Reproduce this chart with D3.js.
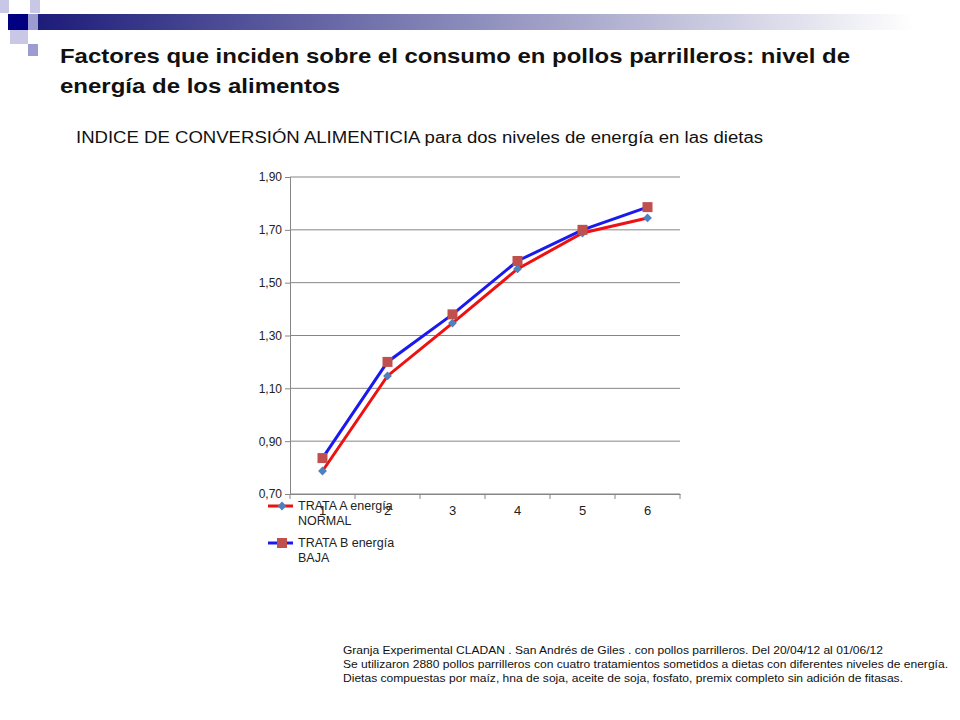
<!DOCTYPE html>
<html><head><meta charset="utf-8">
<script src="https://cdn.jsdelivr.net/npm/d3@7"></script>
<style>body{margin:0;background:#fff;font-family:"Liberation Sans",Arial,sans-serif}</style>
</head><body>
<script>
const categorias = [1, 2, 3, 4, 5, 6];
const trataA = [0.787, 1.147, 1.347, 1.552, 1.688, 1.745];
const trataB = [0.836, 1.200, 1.380, 1.582, 1.700, 1.786];
const yTicks = [0.70, 0.90, 1.10, 1.30, 1.50, 1.70, 1.90];
const series = [
  {name: ["TRATA  A energía", "NORMAL"], values: trataA, line: "#ee1111", marker: "diamond", mcolor: "#4f81bd"},
  {name: ["TRATA  B energía", "BAJA"], values: trataB, line: "#1a1aee", marker: "square", mcolor: "#c0504d"}
];
const notas = [
  "Granja Experimental CLADAN .  San Andrés de Giles .  con pollos parrilleros. Del 20/04/12 al 01/06/12",
  "Se utilizaron 2880 pollos parrilleros con cuatro tratamientos sometidos a dietas con diferentes niveles de energía.",
  "Dietas compuestas por maíz, hna de soja, aceite de soja, fosfato, premix completo sin adición de fitasas."
];
const notasAncho = [540, 605, 560];

const svg = d3.select("body").append("svg").attr("width", 960).attr("height", 720);

// decoración
const defs = svg.append("defs");
const gr = defs.append("linearGradient").attr("id", "g1");
gr.append("stop").attr("offset", "0").attr("stop-color", "#1c1c7a");
gr.append("stop").attr("offset", "0.95").attr("stop-color", "#ffffff");
svg.append("rect").attr("x", 38).attr("y", 14).attr("width", 922).attr("height", 16).attr("fill", "url(#g1)");
[[0,0,9,13,"#c8c8e6"],[30,0,10,13,"#c8c8e6"],[8,14,20,16,"#000080"],[28,14,10,16,"#9c9cd0"],
 [10,30,18,14,"#c8c8e6"],[28,44,10,12,"#9c9cd0"]].forEach(d =>
  svg.append("rect").attr("x", d[0]).attr("y", d[1]).attr("width", d[2]).attr("height", d[3]).attr("fill", d[4]));

function texto(t, x0, y0, size, w, bold) {
  svg.append("text").attr("x", x0).attr("y", y0).attr("font-size", size)
    .attr("font-weight", bold ? "bold" : "normal").attr("fill", "#111")
    .attr("textLength", w).attr("lengthAdjust", "spacingAndGlyphs").text(t);
}
texto("Factores que inciden sobre el consumo en pollos parrilleros: nivel de", 60, 63, 21, 790, true);
texto("energía de los alimentos", 60, 93, 21, 280, true);
texto("INDICE DE CONVERSIÓN ALIMENTICIA para dos niveles de energía en las dietas", 76, 143, 16, 687, false);

const x = d3.scaleBand().domain(categorias).range([290, 680]);
const y = d3.scaleLinear().domain([0.70, 1.90]).range([494, 177]);

const g = svg.append("g");
g.selectAll("line.grid").data(yTicks).join("line")
  .attr("x1", 290).attr("x2", 680).attr("y1", d => y(d)).attr("y2", d => y(d))
  .attr("stroke", "#868686");
g.append("g").attr("transform", "translate(290,0)")
  .call(d3.axisLeft(y).tickValues(yTicks).tickSize(5).tickFormat(d => d3.format(".2f")(d).replace(".", ",")))
  .call(a => a.select(".domain").attr("stroke", "#868686"))
  .call(a => a.selectAll("line").attr("stroke", "#868686"))
  .call(a => a.selectAll("text").attr("font-size", 12).attr("font-family", "Liberation Sans").attr("fill", "#222"));
g.append("g").attr("transform", "translate(0,494)")
  .call(d3.axisBottom(x).tickSize(0).tickPadding(12))
  .call(a => a.select(".domain").attr("stroke", "#868686"))
  .call(a => a.selectAll("text").attr("font-size", 13).attr("font-family", "Liberation Sans").attr("fill", "#222"));
g.selectAll("line.xt").data(d3.range(7)).join("line")
  .attr("x1", i => 290 + i * x.step()).attr("x2", i => 290 + i * x.step())
  .attr("y1", 494).attr("y2", 499).attr("stroke", "#868686");

const line = d3.line().x((d, i) => x(categorias[i]) + x.bandwidth() / 2).y(d => y(d));
function marker(sel, s, cx, cy) {
  if (s.marker === "diamond")
    sel.append("path").attr("d", d3.symbol(d3.symbolDiamond2, 50)()).attr("transform", `translate(${cx},${cy})`).attr("fill", s.mcolor);
  else
    sel.append("rect").attr("x", cx - 5).attr("y", cy - 5).attr("width", 10).attr("height", 10).attr("fill", s.mcolor);
}
series.forEach(s => {
  g.append("path").attr("d", line(s.values)).attr("fill", "none").attr("stroke", s.line).attr("stroke-width", 3);
});
series.forEach(s => {
  s.values.forEach((v, i) => marker(g, s, x(categorias[i]) + x.bandwidth() / 2, y(v)));
});

// leyenda
series.forEach((s, i) => {
  const ly = 506 + i * 37;
  svg.append("line").attr("x1", 268).attr("x2", 293).attr("y1", ly).attr("y2", ly).attr("stroke", s.line).attr("stroke-width", 3);
  marker(svg, s, 282, ly);
  s.name.forEach((t, j) => svg.append("text").attr("x", 298).attr("y", ly + 4 + j * 15).attr("font-size", 12.5).attr("fill", "#222").text(t));
});

notas.forEach((t, i) => texto(t, 343, 654 + i * 14, 11, notasAncho[i], false));
</script>
</body></html>
